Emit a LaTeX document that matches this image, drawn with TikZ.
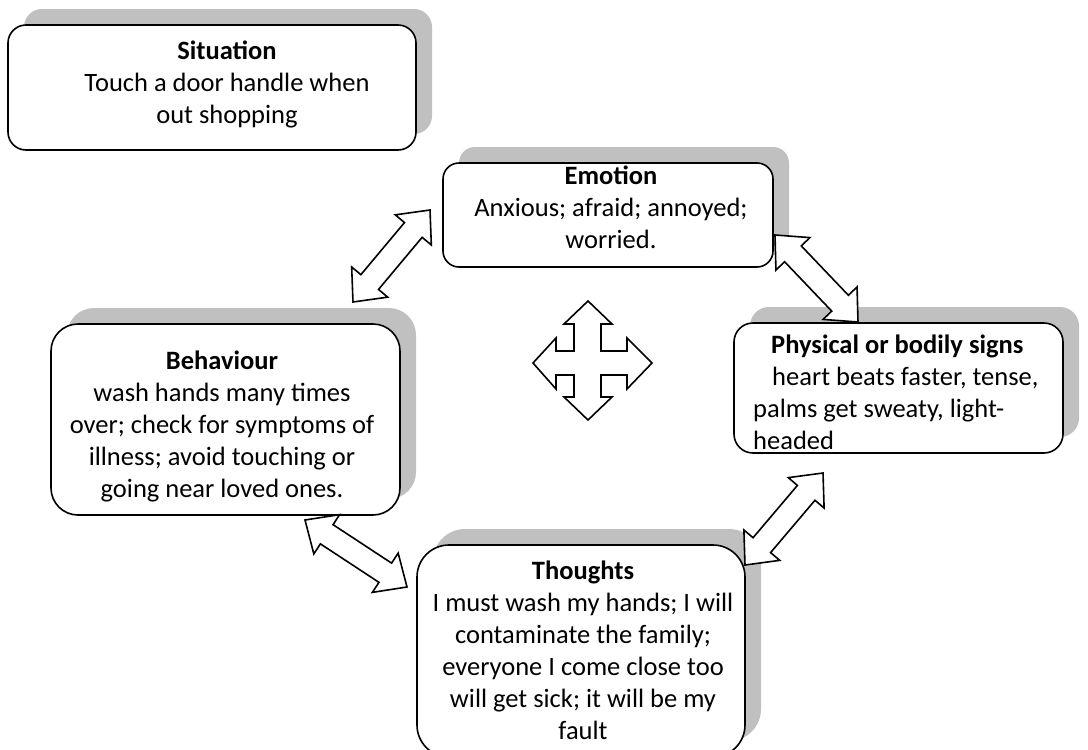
\documentclass[tikz,border=0pt]{standalone}
\usepackage{fontspec}
\setmainfont{Carlito}
\usetikzlibrary{calc,shadows}
\definecolor{shadowgray}{RGB}{192,192,192}
\tikzset{
  box/.style={draw=black, line width=1.6pt, fill=white, rectangle, inner sep=0pt,
    drop shadow={shadow xshift=16pt, shadow yshift=16pt, fill=shadowgray, opacity=1}},
  txt/.style={font=\fontsize{26.5}{32}\selectfont, inner sep=0pt, anchor=base, align=center},
  blockarrow/.style={draw=black, fill=white, line width=1.6pt, line join=miter},
}
\newcommand{\dblarrow}[2]{%
  \draw[blockarrow] (#1)
    -- ($(#1)!26pt!(#2)!23.5pt!90:(#2)$)
    -- ($(#1)!26pt!(#2)!11.5pt!90:(#2)$)
    -- ($(#2)!26pt!(#1)!11.5pt!-90:(#1)$)
    -- ($(#2)!26pt!(#1)!23.5pt!-90:(#1)$)
    -- (#2)
    -- ($(#2)!26pt!(#1)!23.5pt!90:(#1)$)
    -- ($(#2)!26pt!(#1)!11.5pt!90:(#1)$)
    -- ($(#1)!26pt!(#2)!11.5pt!-90:(#2)$)
    -- ($(#1)!26pt!(#2)!23.5pt!-90:(#2)$)
    -- cycle;}
\begin{document}
\begin{tikzpicture}[x=1pt,y=-1pt]
\useasboundingbox (0,0) rectangle (1088,750);
\clip (0,0) rectangle (1088,750);
% boxes
\node[box, rounded corners=18pt, minimum width=408pt, minimum height=125pt] (situation) at (212,87.5) {};
\node[box, rounded corners=16pt, minimum width=330pt, minimum height=104pt] (emotion) at (608,215) {};
\node[box, rounded corners=27pt, minimum width=349pt, minimum height=191pt] (behaviour) at (225.5,419.5) {};
\node[box, rounded corners=19pt, minimum width=329pt, minimum height=130pt] (physical) at (898.5,388) {};
\node[box, rounded corners=32pt, minimum width=328pt, minimum height=212pt] (thoughts) at (581,651) {};
% texts (base anchor = baseline of the last line)
\node[txt] (situationtext) at (227,123) {\textbf{Situation}\\Touch a door handle when\\out shopping};
\node[txt] (emotiontext) at (611,248) {\textbf{Emotion}\\Anxious; afraid; annoyed;\\worried.};
\node[txt] (behaviourtext) at (222,497) {\textbf{Behaviour}\\wash hands many times\\over; check for symptoms of\\illness; avoid touching or\\going near loved ones.};
\node[txt, align=left, anchor=base west] (physicaltext) at (753,449) {\hspace*{18pt}\textbf{Physical or bodily signs}\\\hspace*{19pt}heart beats faster, tense,\\palms get sweaty, light-\\headed};
\node[txt] (thoughtstext) at (583,739) {\textbf{Thoughts}\\I must wash my hands; I will\\contaminate the family;\\everyone I come close too\\will get sick; it will be my\\fault};
% double block arrows
\coordinate (a1s) at (353,302); \coordinate (a1e) at (430,210);
\coordinate (a2s) at (775,235); \coordinate (a2e) at (858,322);
\coordinate (a3s) at (305,520); \coordinate (a3e) at (407,587);
\coordinate (a4s) at (745,565); \coordinate (a4e) at (823,473);
\dblarrow{a1s}{a1e}
\dblarrow{a2s}{a2e}
\dblarrow{a3s}{a3e}
\dblarrow{a4s}{a4e}
% four-way arrow
\draw[blockarrow] (588,301) -- (612,324) -- (601,324) -- (601,351) -- (627,351) -- (627,338) -- (652,363)
  -- (627,389) -- (627,375) -- (601,375) -- (601,397) -- (612,397) -- (588,420) -- (564,397)
  -- (574,397) -- (574,375) -- (556,375) -- (556,389) -- (533,363) -- (556,338) -- (556,351)
  -- (574,351) -- (574,324) -- (564,324) -- cycle;
\end{tikzpicture}
\end{document}
